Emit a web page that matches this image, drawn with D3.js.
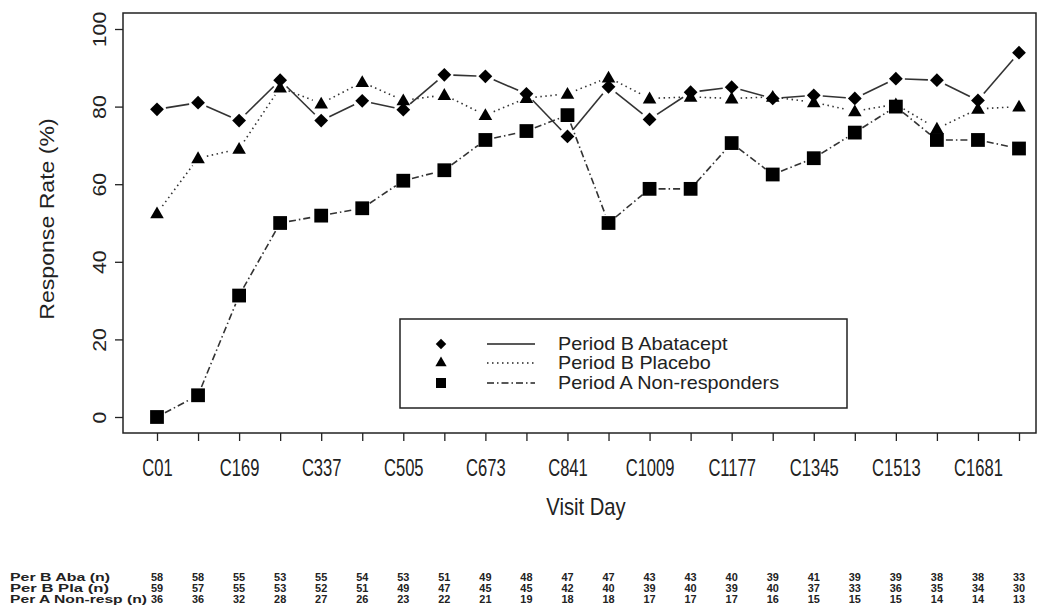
<!DOCTYPE html>
<html><head><meta charset="utf-8">
<script src="https://cdn.jsdelivr.net/npm/d3@7"></script>
<style>body{margin:0;background:#fff}</style></head>
<body>
<svg id="c" width="1044" height="605"></svg>
<script>
const visits = ["C01","C85","C169","C253","C337","C421","C505","C589","C673","C757","C841","C925","C1009","C1093","C1177","C1261","C1345","C1429","C1513","C1597","C1681","C1765"];
const tickLabels = ["C01","C169","C337","C505","C673","C841","C1009","C1177","C1345","C1513","C1681"];
const yTicks = [0,20,40,60,80,100];
const abatacept = [79.3,81.0,76.4,86.8,76.4,81.5,79.2,88.2,87.8,83.3,72.3,85.1,76.7,83.7,85.0,82.1,82.9,82.1,87.2,86.8,81.6,93.9];
const placebo = [52.5,66.7,69.1,84.9,80.8,86.3,81.6,83.0,77.8,82.2,83.3,87.5,82.1,82.5,82.1,82.5,81.1,78.8,80.6,74.3,79.4,80.0];
const nonResponders = [0,5.6,31.3,50,51.9,53.8,60.9,63.6,71.4,73.7,77.8,50,58.8,58.8,70.6,62.5,66.7,73.3,80,71.4,71.4,69.2];
const nAba = [58,58,55,53,55,54,53,51,49,48,47,47,43,43,40,39,41,39,39,38,38,33];
const nPla = [59,57,55,53,52,51,49,47,45,45,42,40,39,40,39,40,37,33,36,35,34,30];
const nNon = [36,36,32,28,27,26,23,22,21,19,18,18,17,17,17,16,15,15,15,14,14,13];
const seriesNames = ["Period B Abatacept","Period B Placebo","Period A Non-responders"];
const rowLabels = ["Per B Aba (n)","Per B Pla (n)","Per A Non-resp (n)"];

const svg = d3.select("#c");
const frame = {l:123, r:1036, t:13, b:433};
const x = d3.scalePoint().domain(visits).range([157,1019]);
const y = d3.scaleLinear().domain([0,100]).range([417,29]);
const sans = "Arial,'Liberation Sans',Helvetica,sans-serif";
const ink = "#222";

// frame
svg.append("rect").attr("x",frame.l).attr("y",frame.t).attr("width",frame.r-frame.l).attr("height",frame.b-frame.t)
  .attr("fill","none").attr("stroke",ink).attr("stroke-width",1.5);

// y axis
const ya = svg.append("g").attr("transform",`translate(${frame.l},0)`)
  .call(d3.axisLeft(y).tickValues(yTicks).tickSize(8).tickFormat(d3.format("d")));
ya.select(".domain").remove();
ya.selectAll(".tick line").attr("stroke",ink).attr("stroke-width",1.3);
ya.selectAll(".tick text").attr("font-family",sans).attr("font-size",19).attr("fill",ink)
  .attr("x",0).attr("dy",0).attr("text-anchor","middle")
  .attr("transform","translate(-17,0) rotate(-90) scale(1.12,1)");

svg.append("text").attr("font-family",sans).attr("font-size",21).attr("fill",ink)
  .attr("text-anchor","middle").attr("transform",`translate(54,219) rotate(-90) scale(1.1,1)`)
  .text("Response Rate (%)");

// x axis
const xa = svg.append("g").attr("transform",`translate(0,${frame.b})`)
  .call(d3.axisBottom(x).tickSize(8).tickFormat(d => tickLabels.includes(d) ? d : ""));
xa.select(".domain").remove();
xa.selectAll(".tick line").attr("stroke",ink).attr("stroke-width",1.3);
xa.selectAll(".tick text").attr("font-family",sans).attr("font-size",23).attr("fill",ink)
  .attr("dy",0).attr("y",0).attr("transform","translate(0,43) scale(0.72,1)");

svg.append("text").attr("font-family",sans).attr("font-size",23).attr("fill",ink)
  .attr("text-anchor","middle").attr("transform","translate(586,515) scale(0.88,1)").text("Visit Day");

// series
const seriesData = [abatacept, placebo, nonResponders];
const dashes = [null, "1.5 3.5", "7 3 1.5 3"];
const symbols = [
  d3.symbol().type(d3.symbolSquare).size(95),
  d3.symbol().type(d3.symbolTriangle).size(80),
  d3.symbol().type(d3.symbolSquare).size(190)
];
const rotations = [45,0,0];
const gap = 9;
seriesData.forEach((vals, si) => {
  const pts = vals.map((v,i) => [x(visits[i]), y(v)]);
  const g = svg.append("g");
  for (let i=0;i<pts.length-1;i++){
    const [x1,y1]=pts[i],[x2,y2]=pts[i+1];
    const dx=x2-x1, dy=y2-y1, L=Math.hypot(dx,dy);
    if (L <= 2*gap) continue;
    const ux=dx/L, uy=dy/L;
    g.append("line").attr("x1",x1+ux*gap).attr("y1",y1+uy*gap).attr("x2",x2-ux*gap).attr("y2",y2-uy*gap)
      .attr("stroke","#333").attr("stroke-width",1.6).attr("stroke-dasharray",dashes[si]);
  }
  g.selectAll("path.m").data(pts).join("path").attr("class","m")
    .attr("d",symbols[si]()).attr("fill","#000")
    .attr("transform",d=>`translate(${d[0]},${d[1]+(si===1?1:0)}) rotate(${rotations[si]})`);
});

// legend
const lg = svg.append("g");
lg.append("rect").attr("x",400).attr("y",319).attr("width",447).attr("height",89)
  .attr("fill","#fff").attr("stroke",ink).attr("stroke-width",1.5);
const rowsY = [344,363,383];
const legSizes = [55,55,100];
seriesNames.forEach((name,i)=>{
  lg.append("path").attr("d",d3.symbol().type(i===1?d3.symbolTriangle:d3.symbolSquare).size(legSizes[i])())
    .attr("fill","#000").attr("transform",`translate(441,${rowsY[i]}) rotate(${rotations[i]})`);
  lg.append("line").attr("x1",487).attr("x2",535).attr("y1",rowsY[i]).attr("y2",rowsY[i])
    .attr("stroke",ink).attr("stroke-width",1.3).attr("stroke-dasharray",dashes[i]);
  lg.append("text").attr("transform",`translate(558,${rowsY[i]+6}) scale(1.1,1)`)
    .attr("font-family",sans).attr("font-size",18).attr("fill",ink).text(name);
});

// n table
const nRows = [nAba,nPla,nNon];
const tableY = [581,592,603];
const labelLen = [100,99,137];
nRows.forEach((arr,ri)=>{
  svg.append("text").attr("x",10).attr("y",tableY[ri]).attr("font-family",sans).attr("font-weight","bold")
    .attr("font-size",11.5).attr("fill",ink).attr("textLength",labelLen[ri]).attr("lengthAdjust","spacingAndGlyphs").text(rowLabels[ri]);
  svg.append("g").selectAll("text").data(arr).join("text")
    .attr("transform",(d,i)=>`translate(${x(visits[i])},${tableY[ri]}) scale(0.95,1)`).attr("text-anchor","middle")
    .attr("font-family",sans).attr("font-weight","bold").attr("font-size",11.5).attr("fill",ink).text(d=>d);
});
</script>
</body></html>
